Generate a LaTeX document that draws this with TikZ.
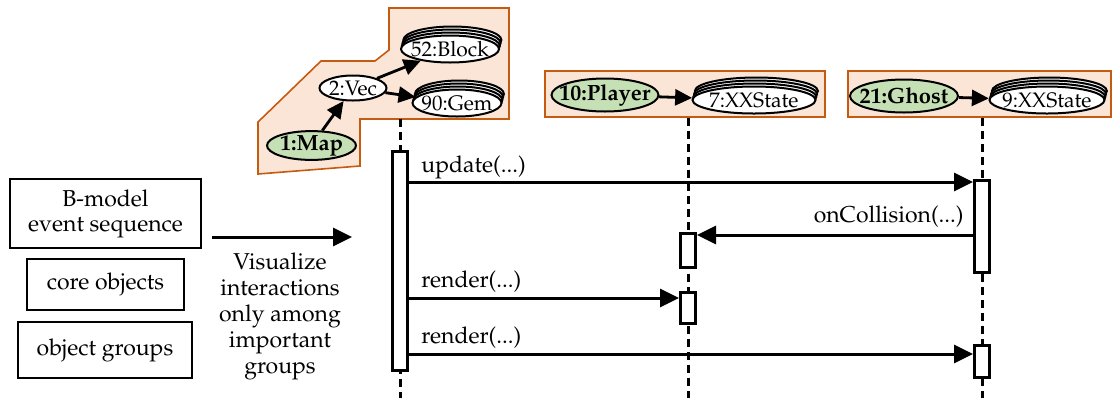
\documentclass[tikz,border=0pt]{standalone}
\usepackage[T1]{fontenc}
\usepackage{mathpazo}
\usetikzlibrary{arrows.meta,calc,shapes.geometric,shadows}
\definecolor{grpfill}{RGB}{251,229,214}
\definecolor{grpline}{RGB}{197,90,17}
\definecolor{corefill}{RGB}{197,224,180}
\newcommand\objtxt[1]{\makebox[0pt]{#1}}
\tikzset{
  grp/.style={draw=grpline, fill=grpfill, line width=0.8pt},
  obj/.style={ellipse, draw, line width=1pt, fill=white, inner sep=0pt,
              font=\fontsize{10.5}{12}\selectfont},
  coreobj/.style={obj, fill=corefill, font=\fontsize{11}{12}\selectfont\bfseries},
  multiobj/.style={obj,
     copy shadow={shadow xshift=1.2pt, shadow yshift=4.5pt},
     double copy shadow={shadow xshift=0.4pt, shadow yshift=1.5pt}},
  tip/.style={-{Triangle[length=9.5pt,width=9pt]}},
  garrow/.style={-{Triangle[length=8.5pt,width=8pt]}, line width=1.4pt},
  msg/.style={tip, line width=1.5pt},
  life/.style={line width=1.5pt, dash pattern=on 4pt off 2.5pt},
  act/.style={draw, fill=white, line width=1.5pt, minimum width=7.5pt, inner sep=0pt},
  tbox/.style={draw, line width=1pt, align=center, inner sep=0pt},
  lbl/.style={inner sep=0pt},
}
\begin{document}
\begin{tikzpicture}[x=0.5pt, y=-0.5pt, font=\fontsize{11.5}{12.5}\selectfont]
\useasboundingbox (0,0) rectangle (1115,398);

% ---- object groups ----
\draw[grp] (389,8) -- (509,8) -- (509,119) -- (360,119) -- (360,166)
  -- (258,174) -- (258,122) -- (321,61) -- (375,61) -- (389,50) -- cycle;
\node[grp, minimum width=140pt, minimum height=23pt, inner sep=0pt] (pgrp) at (685,94) {};
\node[grp, minimum width=131.5pt, minimum height=23pt, inner sep=0pt] (ggrp) at (979.5,94) {};

% ---- objects ----
\node[coreobj, minimum width=44.5pt, minimum height=13.5pt] (map) at (311.5,145.5) {\objtxt{1:Map}};
\node[obj, minimum width=33.5pt, minimum height=12.5pt] (vec) at (353,88) {\objtxt{2:Vec}};
\node[multiobj, minimum width=49pt, minimum height=13.5pt] (blk) at (450,49) {\objtxt{52:Block}};
\node[multiobj, minimum width=44.5pt, minimum height=13.5pt] (gem) at (457,103) {\objtxt{90:Gem}};
\node[coreobj, minimum width=53.5pt, minimum height=16.5pt] (player) at (605,95) {\objtxt{10:Player}};
\node[multiobj, minimum width=61.5pt, minimum height=13.5pt] (xx7) at (754,100) {\objtxt{7:XXState}};
\node[coreobj, minimum width=54pt, minimum height=16.5pt] (ghost) at (904,96) {\objtxt{21:Ghost}};
\node[multiobj, minimum width=57.5pt, minimum height=13.5pt] (xx9) at (1047,100) {\objtxt{9:XXState}};

\draw[garrow] (map) -- (vec);
\draw[garrow] (vec) -- (blk);
\draw[garrow] (vec) -- (gem);
\draw[garrow] (player) -- (xx7);
\draw[garrow] (ghost) -- (xx9);

% ---- lifelines ----
\coordinate (ltop) at (400,119);
\coordinate (bot) at (0,398);
\coordinate (mx) at (688,0);
\coordinate (rx) at (982,0);
\draw[life] (ltop) -- (ltop |- bot);
\draw[life] (mx |- pgrp.south) -- (mx |- bot);
\draw[life] (rx |- ggrp.south) -- (rx |- bot);

% ---- activations ----
\node[act, minimum height=109.5pt] (la) at (400,260.5) {};
\node[act, minimum height=17pt] (ma1) at (688,250) {};
\node[act, minimum height=15.5pt] (ma2) at (688,307.5) {};
\node[act, minimum height=46pt] (ra1) at (982,226) {};
\node[act, minimum height=16pt] (ra2) at (982,361) {};

% ---- messages ----
\coordinate (y1) at (0,182);
\coordinate (y2) at (0,235);
\coordinate (y3) at (0,298);
\coordinate (y4) at (0,354);
\draw[msg] (la.east |- y1) -- (ra1.west |- y1);
\draw[msg] (ra1.west |- y2) -- (ma1.east |- y2);
\draw[msg] (la.east |- y3) -- (ma2.west |- y3);
\draw[msg] (la.east |- y4) -- (ra2.west |- y4);
\node[lbl, anchor=base west] (m1) at (421,172) {update(...)};
\node[lbl, anchor=base east] (m2) at (964,222) {onCollision(...)};
\node[lbl, anchor=base west] (m3) at (421,287) {render(...)};
\node[lbl, anchor=base west] (m4) at (421,343) {render(...)};

% ---- legend and transition ----
\node[tbox, minimum width=95.5pt, minimum height=34.5pt] (bm) at (105.5,213.5) {B-model\\event sequence};
\node[tbox, minimum width=78.5pt, minimum height=25.5pt] (core) at (105.5,284.5) {core objects};
\node[tbox, minimum width=87pt, minimum height=28pt] (og) at (105,350) {object groups};
\coordinate (va) at (212,237);
\coordinate (vb) at (352,237);
\draw[msg] (va) -- (vb);
\node[align=center, inner sep=0pt, font=\fontsize{11.5}{13}\selectfont] (vis) at (280,316)
  {Visualize\\interactions\\only among\\important\\groups};
\end{tikzpicture}
\end{document}
